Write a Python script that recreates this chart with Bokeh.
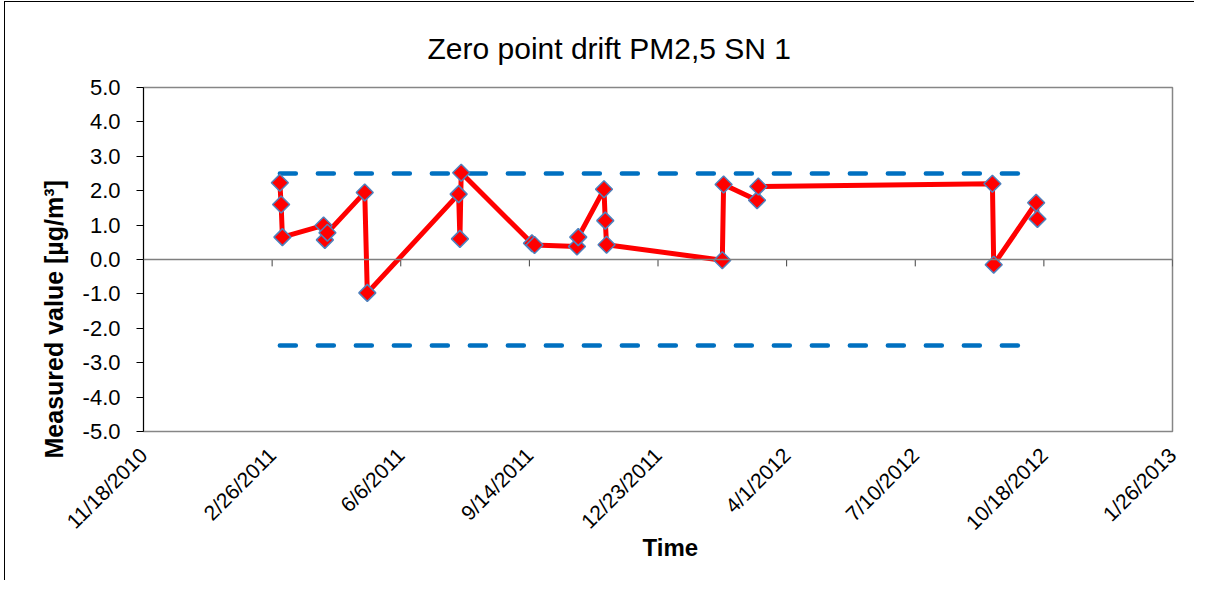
from math import pi
from datetime import datetime
import pandas as pd
from bokeh.plotting import figure
from bokeh.models import (Range1d, FixedTicker, NumeralTickFormatter, Span, Title,
                          CustomJSTickFormatter, ColumnDataSource)
from bokeh.embed import file_html
from bokeh.resources import INLINE

# ---------------- data ----------------
dates = ["2011-03-04", "2011-03-05", "2011-03-06", "2011-04-07", "2011-04-08", "2011-04-10",
         "2011-05-09", "2011-05-11", "2011-07-21", "2011-07-22", "2011-07-23", "2011-09-16",
         "2011-09-18", "2011-10-21", "2011-10-22", "2011-11-11", "2011-11-12", "2011-11-13",
         "2012-02-11", "2012-02-12", "2012-03-09", "2012-03-10", "2012-09-08", "2012-09-09",
         "2012-10-12", "2012-10-13"]
values = [2.23, 1.60, 0.65, 0.99, 0.57, 0.78,
          1.95, -0.97, 1.90, 0.60, 2.52, 0.47,
          0.42, 0.38, 0.65, 2.04, 1.13, 0.43,
          -0.02, 2.18, 1.72, 2.12, 2.20, -0.15,
          1.65, 1.18]
limit_dates = ["2011-03-04", "2012-10-13"]
upper_limit = [2.5, 2.5]
lower_limit = [-2.5, -2.5]
x_tick_labels = ["11/18/2010", "2/26/2011", "6/6/2011", "9/14/2011", "12/23/2011",
                 "4/1/2012", "7/10/2012", "10/18/2012", "1/26/2013"]
y_ticks = [-5, -4, -3, -2, -1, 0, 1, 2, 3, 4, 5]
title_text = "Zero point drift PM2,5 SN 1"
x_title = "Time"
y_title = "Measured value [µg/m³]"

# ---------------- build ----------------
x = pd.to_datetime(dates)
tick_dt = [pd.to_datetime(t, format="%m/%d/%Y").to_pydatetime() for t in x_tick_labels]
tick_ms = [(t - datetime(1970, 1, 1)).total_seconds() * 1000.0 for t in tick_dt]
lim_x = pd.to_datetime(limit_dates)

FONT = "Liberation Sans"

p = figure(width=1190, height=579, x_axis_type="datetime",
           output_backend="svg", toolbar_location=None,
           x_range=Range1d(tick_dt[0], tick_dt[-1]), y_range=Range1d(y_ticks[0], y_ticks[-1]),
           min_border_left=138, min_border_right=23, min_border_top=85, min_border_bottom=150,
           background_fill_color="white", border_fill_color="white",
           styles={"border-left": "1px solid #000000", "border-top": "1px solid #000000",
                   "margin-left": "4px", "margin-top": "1px"})

p.grid.visible = False
p.outline_line_color = "#868686"
p.outline_line_width = 1.5

# y axis
ya = p.yaxis[0]
ya.ticker = FixedTicker(ticks=y_ticks)
ya.formatter = NumeralTickFormatter(format="0.0")
ya.major_tick_out = 7
ya.major_tick_in = 0
ya.minor_tick_line_color = None
ya.axis_line_color = "#000000"
ya.major_tick_line_color = "#000000"
ya.major_label_text_font = FONT
ya.major_label_text_font_size = "22px"
ya.major_label_text_color = "#000000"
ya.major_label_standoff = 16

# x axis (labels only; ticks drawn on zero line)
xa = p.xaxis[0]
xa.ticker = FixedTicker(ticks=tick_ms)
xa.formatter = CustomJSTickFormatter(args=dict(labels=x_tick_labels),
                                     code="return labels[index];")
xa.major_label_orientation = pi / 4
xa.axis_line_color = None
xa.major_tick_line_color = None
xa.minor_tick_line_color = None
xa.major_tick_out = 0
xa.major_tick_in = 0
xa.major_label_standoff = 20
xa.major_label_text_font = FONT
xa.major_label_text_font_size = "21px"
xa.major_label_text_color = "#000000"

# zero line with tick marks
p.add_layout(Span(location=0, dimension="width", line_color="#7f7f7f", line_width=1.5))
p.segment(x0=tick_dt, y0=[0] * len(tick_dt), x1=tick_dt, y1=[-0.2] * len(tick_dt),
          line_color="#404040", line_width=1)

# limit lines
p.line(lim_x, upper_limit, line_color="#0070c0", line_width=4.5, line_dash="16 22", line_cap="round")
p.line(lim_x, lower_limit, line_color="#0070c0", line_width=4.5, line_dash="16 22", line_cap="round")

# measurements
src = ColumnDataSource(dict(x=x, y=values))
p.line("x", "y", source=src, line_color="#ff0000", line_width=5, line_join="round")
p.scatter("x", "y", source=src, marker="square", angle=pi / 4, size=12,
          fill_color="#ff0000", line_color="#4f81bd", line_width=1.5)

# texts
p.add_layout(Title(text=title_text, align="left", offset=284, standoff=42, vertical_align="top",
                   text_font=FONT, text_font_size="30px", text_font_style="normal",
                   text_color="#000000"), "above")
p.add_layout(Title(text=y_title, align="left", offset=-27, standoff=24,
                   text_font=FONT, text_font_size="25px", text_font_style="bold",
                   text_color="#000000"), "left")
p.add_layout(Title(text=x_title, align="left", offset=499, standoff=-28,
                   text_font=FONT, text_font_size="24px", text_font_style="bold",
                   text_color="#000000"), "below")

open("out.html", "w").write(file_html(p, INLINE))
